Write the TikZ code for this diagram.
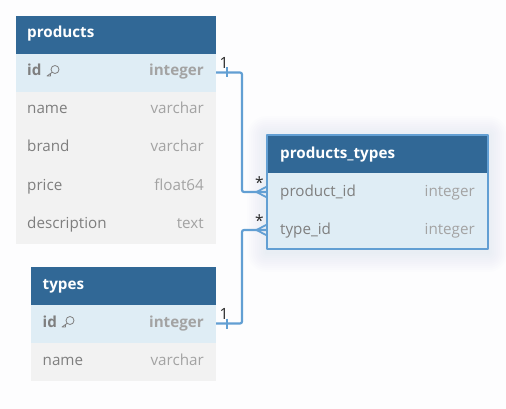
\documentclass[tikz,border=0pt]{standalone}
\usepackage{fontspec}
\setmainfont{Open Sans}
\definecolor{headblue}{HTML}{316896}
\definecolor{rowblue}{HTML}{DFEDF5}
\definecolor{rowgray}{HTML}{F2F2F2}
\definecolor{linkblue}{HTML}{629FD3}
\definecolor{fieldgray}{HTML}{7F7F7F}
\definecolor{typegray}{HTML}{A3A3A3}
\definecolor{pagewhite}{HTML}{FDFDFE}
\tikzset{
	boxcell/.style={minimum width=#1, minimum height=38pt, inner sep=0pt, outer sep=0pt, anchor=north west},
	headtext/.style={anchor=base west, inner sep=0pt, text=white, font=\fontsize{15.2}{17}\selectfont\bfseries},
	fieldtext/.style={anchor=base west, inner sep=0pt, text=fieldgray, font=\fontsize{15.2}{17}\selectfont},
	typetext/.style={anchor=base east, inner sep=0pt, text=typegray, font=\fontsize{15.2}{17}\selectfont},
	keytext/.style={font=\fontsize{15.2}{17}\selectfont\bfseries},
	marktext/.style={inner sep=0pt, text=black!85, font=\fontsize{15.5}{17}\selectfont},
	link/.style={draw=linkblue, line width=2.2pt, rounded corners=2pt},
	tick/.style={draw=linkblue, line width=1.8pt}
}
\begin{document}
\begin{tikzpicture}[x=1pt, y=-1pt, line join=round]
	\useasboundingbox[fill=pagewhite] (0,0) rectangle (506,409);
	% glow round the joined table
	\foreach \r in {20,18,...,2}
		\fill[linkblue, opacity=0.012, rounded corners=\r pt] (267-\r,136-\r) rectangle (488+\r,252+\r);
	% products
	\node[boxcell=200.5pt, fill=headblue] (products) at (15.5,16) {};
	\node[headtext] at (27,38) {products};
	\node[boxcell=200.5pt, fill=rowblue] (products_id) at (15.5,54) {};
	\node[fieldtext, keytext] at (27,76) {id};
	\node[typetext, keytext] at (204,76) {integer};
	\foreach \n/\y/\t in {name/92/varchar,brand/130/varchar,price/168/float64,description/206/text} {
		\node[boxcell=200.5pt, fill=rowgray] (products_\n) at (15.5,\y) {};
		\node[fieldtext] at (27,\y+22) {\n};
		\node[typetext] at (204,\y+22) {\t};
	}
	% types
	\node[boxcell=185.5pt, fill=headblue] (types) at (30.5,267) {};
	\node[headtext] at (42.5,289) {types};
	\node[boxcell=185.5pt, fill=rowblue] (types_id) at (30.5,305) {};
	\node[fieldtext, keytext] at (42.5,327) {id};
	\node[typetext, keytext] at (204,327) {integer};
	\node[boxcell=185.5pt, fill=rowgray] (types_name) at (30.5,343) {};
	\node[fieldtext] at (42.5,365) {name};
	\node[typetext] at (204,365) {varchar};
	% key icons
	\foreach \x/\y in {55/69.5,70/320.5} {
		\draw[fieldgray, line width=0.8pt] (\x,\y) circle (4pt);
		\draw[fieldgray, line width=0.8pt] (\x-2.8,\y+2.8) -- (\x-8,\y+6.5) -- (\x-4.5,\y+6.5) -- (\x-4.5,\y+4.5);
	}
	% products_types
	\node[boxcell=221pt, fill=headblue] (products_types) at (267,135) {};
	\node[headtext] at (280,158) {products\_types};
	\node[boxcell=221pt, fill=rowblue] (pt_product) at (267,173) {};
	\node[fieldtext] at (280,196) {product\_id};
	\node[typetext] at (475,196) {integer};
	\node[boxcell=221pt, fill=rowblue] (pt_type) at (267,211) {};
	\node[fieldtext] at (280,234) {type\_id};
	\node[typetext] at (475,234) {integer};
	\draw[linkblue, line width=1.2pt] (products_types.north west) rectangle (pt_type.south east);
	% links
	\draw[link] (products_id.east) ++(0,-0.5) -- ++(26,0) |- (pt_product.west);
	\draw[link] (types_id.east) ++(0,-0.5) -- ++(26,0) |- (pt_type.west);
	\foreach \y in {72.5,323.5} \draw[tick] (227,\y-5) -- (227,\y+5);
	\foreach \y in {192,230} {
		\draw[tick] (256.5,\y) -- (267,\y-5.5);
		\draw[tick] (256.5,\y) -- (267,\y+5.5);
	}
	\node[marktext] (one_a) at (224,63) {1};
	\node[marktext] (one_b) at (224,314) {1};
	\node[marktext] (many_a) at (259.5,183) {*};
	\node[marktext] (many_b) at (259.5,221) {*};
\end{tikzpicture}
\end{document}
